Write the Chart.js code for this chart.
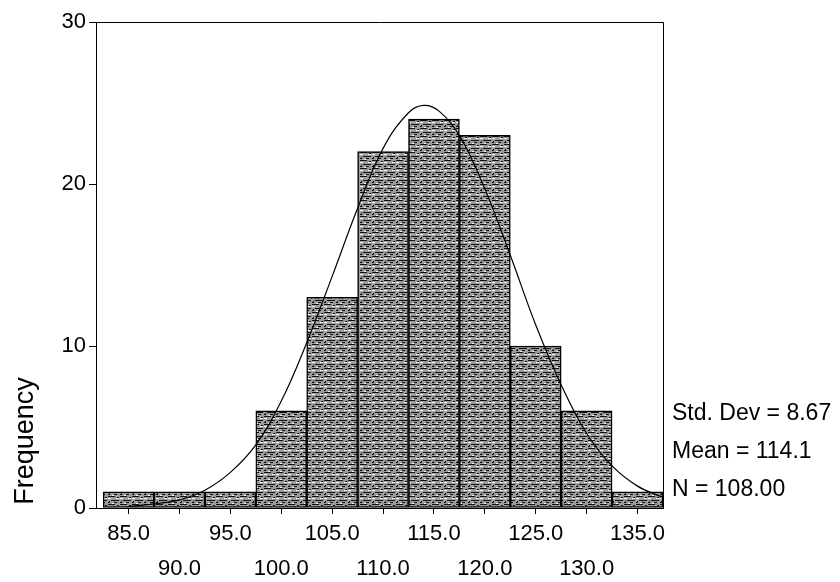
<!DOCTYPE html>
<html>
<head>
<meta charset="utf-8">
<script src="https://cdn.jsdelivr.net/npm/chart.js@4.4.1/dist/chart.umd.min.js"></script>
<style>
  html, body { margin: 0; padding: 0; background: #fff; }
  #wrap { width: 840px; height: 582px; }
</style>
</head>
<body>
<div id="wrap"><canvas id="histChart" width="840" height="582"></canvas></div>
<script>
// histogram bins (midpoints) and counts
const binMids = [85, 90, 95, 100, 105, 110, 115, 120, 125, 130, 135];
const counts = [1, 1, 1, 6, 13, 22, 24, 23, 10, 6, 1];

// fitted normal curve
const curveX = [85, 87.5, 90, 92.5, 95, 97.5, 100, 102.5, 105, 107.5, 110, 112.5, 114, 115.5, 117.5, 120, 122.5, 125, 127.5, 130, 132.5, 135, 137.5];
const curveY = [0.1, 0.25, 0.5, 1.1, 2.2, 3.9, 6.6, 10.2, 14.3, 18.5, 22.2, 24.4, 24.85, 24.5, 23.0, 19.7, 15.6, 11.3, 7.6, 4.6, 2.6, 1.35, 0.65];

const xTicks = [85, 90, 95, 100, 105, 110, 115, 120, 125, 130, 135];
const yTicks = [0, 10, 20, 30];
const statLines = ["Std. Dev = 8.67", "Mean = 114.1", "N = 108.00"];
const yTitle = "Frequency";

const FONT = "'Liberation Sans', Arial, sans-serif";

// grey "scanned" texture for the bars
function makePattern() {
    const c = document.createElement("canvas");
    c.width = 12; c.height = 8;
    const g = c.getContext("2d");
    g.fillStyle = "#9c9c9c";
    g.fillRect(0, 0, 12, 8);
    g.fillStyle = "#111";
    g.fillRect(0, 0, 7, 1);
    g.fillRect(9, 1, 2, 1);
    g.fillRect(3, 4, 8, 1);
    g.fillRect(1, 5, 1, 2);
    g.fillRect(0, 6, 2, 1);
    g.fillRect(6, 6, 3, 1);
    g.fillStyle = "#f2f2f2";
    g.fillRect(8, 2, 3, 1);
    g.fillRect(0, 2, 3, 1);
    g.fillRect(4, 7, 2, 1);
    return g.createPattern(c, "repeat");
}

const framePlugin = {
    id: "frame",
    afterDraw(chart) {
        const { ctx, chartArea: a } = chart;
        ctx.save();
        ctx.strokeStyle = "#000";
        ctx.lineWidth = 1;
        ctx.beginPath();
        ctx.moveTo(a.left, a.top + 0.5);
        ctx.lineTo(a.right + 0.5, a.top + 0.5);
        ctx.lineTo(a.right + 0.5, a.bottom);
        ctx.stroke();

        ctx.fillStyle = "#000";
        ctx.font = "23px " + FONT;
        ctx.textAlign = "left";
        ctx.textBaseline = "alphabetic";
        statLines.forEach((s, i) => {
            ctx.fillText(s, a.right + 9, 420 + i * 38);
        });

        ctx.translate(33, 441);
        ctx.rotate(-Math.PI / 2);
        ctx.font = "27px " + FONT;
        ctx.textAlign = "center";
        ctx.fillText(yTitle, 0, 0);
        ctx.restore();
    }
};

const ctx = document.getElementById("histChart").getContext("2d");
const histChart = new Chart(ctx, {
    data: {
        datasets: [
            {
                type: "line",
                data: curveX.map((x, i) => ({ x, y: curveY[i] })),
                borderColor: "#000",
                borderWidth: 1.2,
                pointRadius: 0,
                tension: 0.4,
                fill: false,
                order: 0
            },
            {
                type: "bar",
                data: binMids.map((x, i) => ({ x, y: counts[i] })),
                backgroundColor: makePattern(),
                borderColor: "#000",
                borderWidth: 1.5,
                borderSkipped: false,
                barPercentage: 1,
                categoryPercentage: 1,
                order: 1
            }
        ]
    },
    options: {
        responsive: false,
        animation: false,
        layout: { padding: { top: 22, right: 177, left: 0, bottom: 0 } },
        plugins: { legend: { display: false }, tooltip: { enabled: false } },
        scales: {
            x: {
                type: "linear",
                offset: false,
                min: 81.8,
                max: 137.5,
                afterBuildTicks: s => { s.ticks = xTicks.map(v => ({ value: v })); },
                afterFit: s => { s.height = 74; },
                grid: { display: true, offset: false, drawOnChartArea: false, drawTicks: true, tickLength: 6, color: "#000" },
                border: { display: true, color: "#000", width: 1 },
                ticks: {
                    color: "#000",
                    padding: 2,
                    maxRotation: 0,
                    autoSkip: false,
                    font: { size: 22, family: FONT, lineHeight: 1.6 },
                    callback: (v, i) => {
                        const t = Number(v).toFixed(1);
                        return i % 2 === 0 ? [t, ""] : ["", t];
                    }
                }
            },
            y: {
                min: 0,
                max: 30,
                afterBuildTicks: s => { s.ticks = yTicks.map(v => ({ value: v })); },
                afterFit: s => { s.width = 96; },
                grid: { display: true, drawOnChartArea: false, drawTicks: true, tickLength: 7, color: "#000" },
                border: { display: true, color: "#000", width: 1 },
                ticks: {
                    color: "#000",
                    padding: 3,
                    font: { size: 22, family: FONT }
                }
            }
        }
    },
    plugins: [framePlugin]
});
</script>
</body>
</html>
